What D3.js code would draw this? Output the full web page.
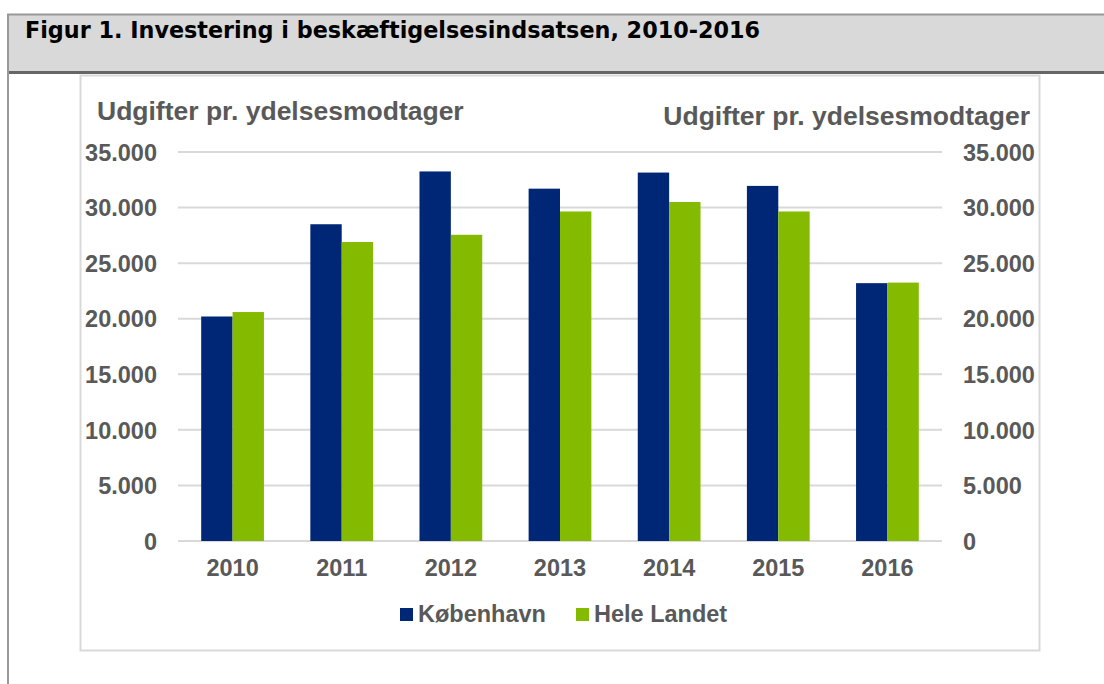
<!DOCTYPE html>
<html lang="en">
<head>
    <meta charset="UTF-8">
    <title>Figur 1</title>
    <script src="https://cdn.jsdelivr.net/npm/d3@7"></script>
    <style>
        body { margin: 0; background: #fff; }
        svg { display: block; }
        .tick-label, .cat-label, .axis-title, .legend-label {
            font-family: "Liberation Sans", Arial, sans-serif;
            font-weight: bold;
            fill: #595959;
        }
        .header-title {
            font-family: "DejaVu Sans", Verdana, sans-serif;
            font-weight: bold;
            fill: #000;
        }
    </style>
</head>
<body>
<script>
    /******* DATA *******/
    const years = ["2010", "2011", "2012", "2013", "2014", "2015", "2016"];
    const kobenhavn = [20200, 28500, 33250, 31700, 33150, 31950, 23200];
    const heleLandet = [20600, 26900, 27550, 29650, 30500, 29650, 23250];
    const seriesNames = ["København", "Hele Landet"];
    const yTicks = [0, 5000, 10000, 15000, 20000, 25000, 30000, 35000];
    const axisTitle = "Udgifter pr. ydelsesmodtager";
    const figTitle = "Figur 1. Investering i beskæftigelsesindsatsen, 2010-2016";

    /******* STYLING/FORMATTING *******/
    const width = 1104, height = 684;
    const svg = d3.select("body").append("svg")
        .attr("width", width)
        .attr("height", height);

    const colors = ["#002776", "#84bb00"];
    const plot = { left: 178, right: 942, top: 152, bottom: 541 };
    const labelSize = "23.5px";

    // Header box
    svg.append("rect")
        .attr("x", 7).attr("y", 14)
        .attr("width", width - 7).attr("height", 58)
        .attr("fill", "#d9d9d9");
    svg.append("line")
        .attr("x1", 7).attr("x2", width).attr("y1", 14.5).attr("y2", 14.5)
        .attr("stroke", "#999").attr("stroke-width", 2);
    svg.append("line")
        .attr("x1", 7).attr("x2", width).attr("y1", 72.5).attr("y2", 72.5)
        .attr("stroke", "#666").attr("stroke-width", 3);
    svg.append("line")
        .attr("x1", 8).attr("x2", 8).attr("y1", 14).attr("y2", height)
        .attr("stroke", "#999").attr("stroke-width", 2);
    svg.append("text")
        .attr("class", "header-title")
        .attr("x", 25).attr("y", 38)
        .style("font-size", "22.3px")
        .text(figTitle);

    // Chart frame
    svg.append("rect")
        .attr("x", 80.5).attr("y", 75.5)
        .attr("width", 959).attr("height", 575)
        .attr("fill", "#fff")
        .attr("stroke", "#d9d9d9").attr("stroke-width", 2);

    /******* SCALES *******/
    const xScale = d3.scaleBand()
        .domain(years)
        .range([plot.left, plot.right])
        .paddingInner(0.425)
        .paddingOuter(0.2125);
    const xSub = d3.scaleBand()
        .domain(seriesNames)
        .range([0, xScale.bandwidth()]);
    const yScale = d3.scaleLinear()
        .domain([0, 35000])
        .range([plot.bottom, plot.top]);

    const fmt = d => d3.format(",")(d).replace(/,/g, ".");

    // Gridlines
    svg.append("g")
        .selectAll("line")
        .data(yTicks)
        .enter()
        .append("line")
        .attr("x1", plot.left).attr("x2", plot.right)
        .attr("y1", d => yScale(d)).attr("y2", d => yScale(d))
        .attr("stroke", "#d9d9d9")
        .attr("stroke-width", 2);

    // Left axis
    const yAxisLeft = d3.axisLeft(yScale).tickValues(yTicks).tickFormat(fmt).tickSize(0).tickPadding(21);
    const gL = svg.append("g")
        .attr("transform", `translate(${plot.left},0)`)
        .call(yAxisLeft);
    gL.select(".domain").remove();
    gL.selectAll("text").attr("class", "tick-label").style("font-size", labelSize).attr("dy", "0.35em");

    // Right axis
    const yAxisRight = d3.axisRight(yScale).tickValues(yTicks).tickFormat(fmt).tickSize(0).tickPadding(21);
    const gR = svg.append("g")
        .attr("transform", `translate(${plot.right},0)`)
        .call(yAxisRight);
    gR.select(".domain").remove();
    gR.selectAll("text").attr("class", "tick-label").style("font-size", labelSize).attr("dy", "0.35em");

    // Category axis
    const xAxis = d3.axisBottom(xScale).tickSize(0).tickPadding(18);
    const gX = svg.append("g")
        .attr("transform", `translate(0,${plot.bottom})`)
        .call(xAxis);
    gX.select(".domain").remove();
    gX.selectAll("text").attr("class", "cat-label").style("font-size", labelSize).attr("dy", "0.71em");

    /******* BARS *******/
    const rows = years.map((y, i) => ({ year: y, values: [kobenhavn[i], heleLandet[i]] }));
    const groups = svg.append("g")
        .selectAll("g")
        .data(rows)
        .enter()
        .append("g")
        .attr("transform", d => `translate(${xScale(d.year)},0)`);
    groups.selectAll("rect")
        .data(d => d.values.map((v, j) => ({ name: seriesNames[j], value: v, j: j })))
        .enter()
        .append("rect")
        .attr("x", d => xSub(d.name))
        .attr("y", d => yScale(d.value))
        .attr("width", xSub.bandwidth())
        .attr("height", d => yScale(0) - yScale(d.value))
        .attr("fill", d => colors[d.j]);

    /******* AXIS TITLES *******/
    svg.append("text")
        .attr("class", "axis-title")
        .attr("x", 97).attr("y", 120)
        .style("font-size", "26.5px")
        .text(axisTitle);
    svg.append("text")
        .attr("class", "axis-title")
        .attr("x", 1030).attr("y", 125)
        .attr("text-anchor", "end")
        .style("font-size", "26.5px")
        .text(axisTitle);

    /******* LEGEND *******/
    const legendX = [400, 576];
    const legend = svg.append("g")
        .selectAll("g")
        .data(seriesNames)
        .enter()
        .append("g")
        .attr("transform", (d, i) => `translate(${legendX[i]},608)`);
    legend.append("rect")
        .attr("width", 13).attr("height", 13)
        .attr("fill", (d, i) => colors[i]);
    legend.append("text")
        .attr("class", "legend-label")
        .attr("x", 18).attr("y", 14)
        .style("font-size", labelSize)
        .text(d => d);
</script>
</body>
</html>
